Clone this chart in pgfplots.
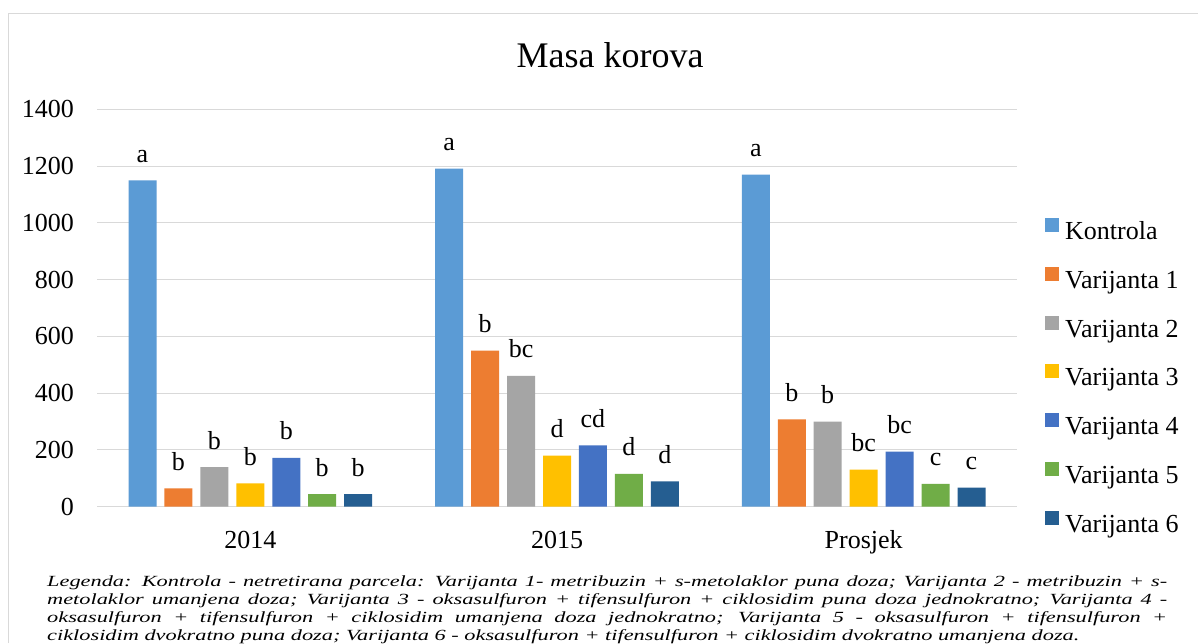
\documentclass[border=0pt]{standalone}
\usepackage{fontspec}
\setmainfont{Liberation Serif}
\usepackage{graphicx}
\usepackage{pgfplots}
\pgfplotsset{compat=1.18}
\definecolor{c0}{HTML}{5B9BD5}
\definecolor{c1}{HTML}{ED7D31}
\definecolor{c2}{HTML}{A5A5A5}
\definecolor{c3}{HTML}{FFC000}
\definecolor{c4}{HTML}{4472C4}
\definecolor{c5}{HTML}{70AD47}
\definecolor{c6}{HTML}{255E91}
\definecolor{gridc}{HTML}{D9D9D9}
\begin{document}
\begin{tikzpicture}
\useasboundingbox (0pt,0pt) rectangle (1198pt,643pt);
\fill[white] (0pt,0pt) rectangle (1198pt,643pt);
\draw[gridc, line width=1pt] (8.3pt,0pt) -- (8.3pt,629.7pt) -- (1198pt,629.7pt);
\node[anchor=base, inner sep=0pt, font=\fontsize{36}{40}\selectfont] at (610pt,575.7pt) {Masa korova};
\begin{axis}[
  at={(97pt,136.3pt)}, anchor=south west,
  width=920pt, height=397.4pt, scale only axis,
  xmin=-0.5, xmax=2.5, ymin=0, ymax=1400,
  ytick={0,200,...,1400}, xtick={0,1,2}, xticklabels={2014,2015,Prosjek},
  ymajorgrids, grid style={draw=gridc, line width=1pt},
  axis line style={draw=none}, major tick length=0pt,
  ybar, bar width=0.0913,
  tick label style={font=\fontsize{26}{30}\selectfont},
  /pgf/number format/assume math mode=true,
  /pgf/number format/1000 sep={},
  yticklabel style={anchor=east, inner sep=0pt, xshift=-23pt},
  xticklabel style={anchor=base, inner sep=0pt, yshift=-42pt},
  nodes near coords, point meta=explicit symbolic,
  every node near coord/.append style={font=\fontsize{26}{30}\selectfont, anchor=base, yshift=18pt, inner sep=0pt, text=black},
  legend style={at={(1.0304,0.7272)}, anchor=north west, draw=none, fill=none, inner sep=0pt,
    row sep=21.3pt, column sep=6pt, font=\fontsize{26}{30}\selectfont,
    nodes={inner sep=0pt, text height=18pt, text depth=6pt}},
  legend cell align=left,
  legend image code/.code={\fill[#1] (0pt,1.5pt) rectangle (14pt,15.5pt);},
]
\addplot[fill=c0, draw=none, bar shift=-0.3516] coordinates {(0,1150) [a] (1,1191) [a] (2,1170) [a]};
\addplot[fill=c1, draw=none, bar shift=-0.2344] coordinates {(0,65) [b] (1,550) [b] (2,308) [b]};
\addplot[fill=c2, draw=none, bar shift=-0.1172] coordinates {(0,139) [b] (1,461) [bc] (2,300) [b]};
\addplot[fill=c3, draw=none, bar shift=0] coordinates {(0,82) [b] (1,180) [d] (2,131) [bc]};
\addplot[fill=c4, draw=none, bar shift=0.1172] coordinates {(0,172) [b] (1,216) [cd] (2,194) [bc]};
\addplot[fill=c5, draw=none, bar shift=0.2344] coordinates {(0,44) [b] (1,116) [d] (2,80) [c]};
\addplot[fill=c6, draw=none, bar shift=0.3516] coordinates {(0,44) [b] (1,89) [d] (2,67) [c]};
\legend{Kontrola, Varijanta 1, Varijanta 2, Varijanta 3, Varijanta 4, Varijanta 5, Varijanta 6}
\end{axis}
\node[anchor=base west, inner sep=0pt] at (47pt,57pt) {\scalebox{1.44}[1]{\parbox[t]{777.8pt}{\fontsize{15.5}{18.3}\selectfont\itshape
\makebox[777.8pt][s]{Legenda: Kontrola - netretirana parcela: Varijanta 1- metribuzin + s-metolaklor puna doza; Varijanta 2 - metribuzin + s-}\\
\makebox[777.8pt][s]{metolaklor umanjena doza; Varijanta 3 - oksasulfuron + tifensulfuron + ciklosidim puna doza jednokratno; Varijanta 4 -}\\
\makebox[777.8pt][s]{oksasulfuron + tifensulfuron + ciklosidim umanjena doza jednokratno; Varijanta 5 - oksasulfuron + tifensulfuron +}\\
ciklosidim dvokratno puna doza; Varijanta 6 - oksasulfuron + tifensulfuron + ciklosidim dvokratno umanjena doza.}}};
\end{tikzpicture}
\end{document}
